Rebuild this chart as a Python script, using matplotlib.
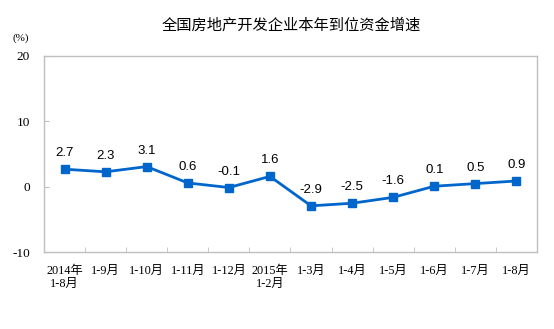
#!/usr/bin/env python3
import numpy as np
import matplotlib
matplotlib.use('Agg')
import matplotlib.pyplot as plt

months = ['2014年\n1-8月', '1-9月', '1-10月', '1-11月', '1-12月', '2015年\n1-2月',
          '1-3月', '1-4月', '1-5月', '1-6月', '1-7月', '1-8月']
growth = [2.7, 2.3, 3.1, 0.6, -0.1, 1.6, -2.9, -2.5, -1.6, 0.1, 0.5, 0.9]
yticks = [-10, 0, 10, 20]

cjk = ['Liberation Serif', 'Noto Sans CJK SC']
blue = '#0066CC'
grey = '#BFBFBF'

fig = plt.figure(figsize=(5.54, 3.29), dpi=100)
ax = fig.add_axes([0.0794, 0.2331, 0.8899, 0.5967])

x = np.arange(len(growth))
ax.plot(x, growth, color=blue, lw=2.0, marker='s', ms=5.5, zorder=3)
for xi, v in zip(x, growth):
    ax.annotate('{:.1f}'.format(v), (xi, v), xytext=(0, 11.5), textcoords='offset points',
                ha='center', va='center', fontsize=9.5, family='Liberation Sans')

ax.set_xlim(-0.5, len(growth) - 0.5)
ax.set_ylim(-10, 20)
ax.set_yticks(yticks)
ax.set_yticklabels([str(t) for t in yticks], family='Liberation Serif', fontsize=9.5)
ax.set_xticks(x)
ax.set_xticklabels(months, family=cjk, fontsize=8.8, linespacing=1.15)
ax.set_xticks(np.arange(len(growth) + 1) - 0.5, minor=True)
ax.tick_params(axis='x', which='major', length=0, pad=9)
ax.tick_params(axis='x', which='minor', direction='in', length=3.5, color=grey)
ax.tick_params(axis='y', direction='in', length=3.5, color=grey, pad=10)

for s in ax.spines.values():
    s.set_color(grey)
    s.set_linewidth(1.0)

fig.text(0.525, 0.925, '全国房地产开发企业本年到位资金增速', ha='center', va='center',
         fontsize=11, family='Noto Sans CJK SC')
fig.text(0.038, 0.885, '(%)', ha='center', va='center', fontsize=8, family=cjk)

fig.savefig('out.png', dpi=100)
